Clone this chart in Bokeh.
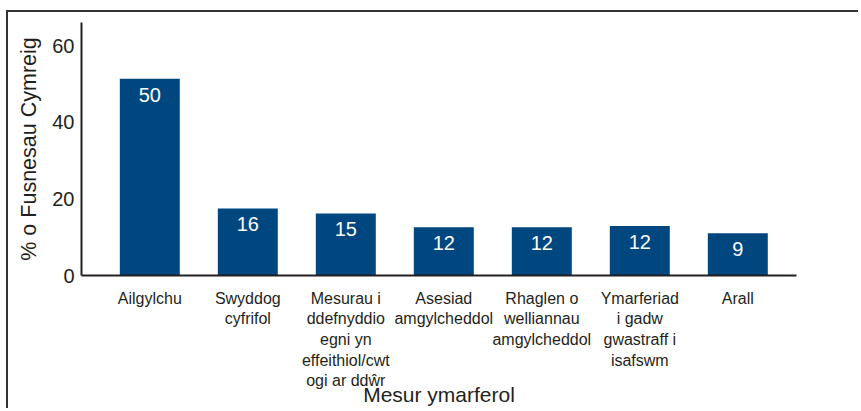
from bokeh.plotting import figure
from bokeh.models import Range1d, FixedTicker, ColumnDataSource
from bokeh.core.properties import value
from bokeh.embed import file_html
from bokeh.resources import INLINE

# ---- data ----
categories = [
    "Ailgylchu",
    "Swyddog\ncyfrifol",
    "Mesurau i\nddefnyddio\negni yn\neffeithiol/cwt\nogi ar ddŵr",
    "Asesiad\namgylcheddol",
    "Rhaglen o\nwelliannau\namgylcheddol",
    "Ymarferiad\ni gadw\ngwastraff i\nisafswm",
    "Arall",
]
bar_heights = [51.3, 17.5, 16.2, 12.6, 12.6, 12.9, 11.0]   # drawn bar heights
value_labels = ["50", "16", "15", "12", "12", "12", "9"]    # printed values
y_ticks = [0, 20, 40, 60]
y_title = "% o Fusnesau Cymreig"
x_title = "Mesur ymarferol"

FONT = "Liberation Sans"
TXT = "#231f20"
BAR = "#00467f"

xs = list(range(len(categories)))
src = ColumnDataSource(dict(x=xs, top=bar_heights, lab=value_labels))

p = figure(
    width=852, height=398,
    output_backend="svg", toolbar_location=None,
    x_range=Range1d(-0.697, 6.599), y_range=Range1d(0, 66),
    min_border_left=73, min_border_right=64, min_border_top=10, min_border_bottom=135,
)
p.styles = {
    "margin-left": "6px", "margin-top": "10px",
    "border-top": "2px solid #333333", "border-left": "2px solid #333333",
}

p.vbar(x="x", top="top", bottom=0, width=0.612, source=src,
       fill_color=BAR, line_color=None)
p.text(x="x", y="top", text="lab", source=src, y_offset=16,
       text_align="center", text_baseline="middle",
       text_color="white", text_font=value(FONT), text_font_size="20px")

p.xgrid.grid_line_color = None
p.ygrid.grid_line_color = None
p.outline_line_color = None

xa = p.xaxis[0]
xa.ticker = FixedTicker(ticks=xs)
xa.major_label_overrides = {i: c for i, c in zip(xs, categories)}
xa.major_tick_line_color = None
xa.minor_tick_line_color = None
xa.major_tick_out = 0
xa.major_tick_in = 0
xa.major_label_standoff = 14
xa.major_label_text_font = FONT
xa.major_label_text_font_size = "16px"
xa.major_label_text_line_height = 1.22
xa.major_label_text_color = TXT
xa.axis_line_color = TXT
xa.axis_line_width = 2
xa.axis_label = x_title
xa.axis_label_text_font = FONT
xa.axis_label_text_font_size = "21px"
xa.axis_label_text_font_style = "normal"
xa.axis_label_text_color = TXT
xa.axis_label_standoff = -9

ya = p.yaxis[0]
ya.ticker = FixedTicker(ticks=y_ticks)
ya.major_tick_line_color = None
ya.minor_tick_line_color = None
ya.major_tick_out = 0
ya.major_tick_in = 0
ya.major_label_standoff = 7
ya.major_label_text_font = FONT
ya.major_label_text_font_size = "20px"
ya.major_label_text_color = TXT
ya.axis_line_color = TXT
ya.axis_line_width = 2
ya.axis_label = y_title
ya.axis_label_text_font = FONT
ya.axis_label_text_font_size = "21.5px"
ya.axis_label_text_font_style = "normal"
ya.axis_label_text_color = TXT
ya.axis_label_standoff = 8

open("out.html", "w").write(file_html(p, INLINE))
